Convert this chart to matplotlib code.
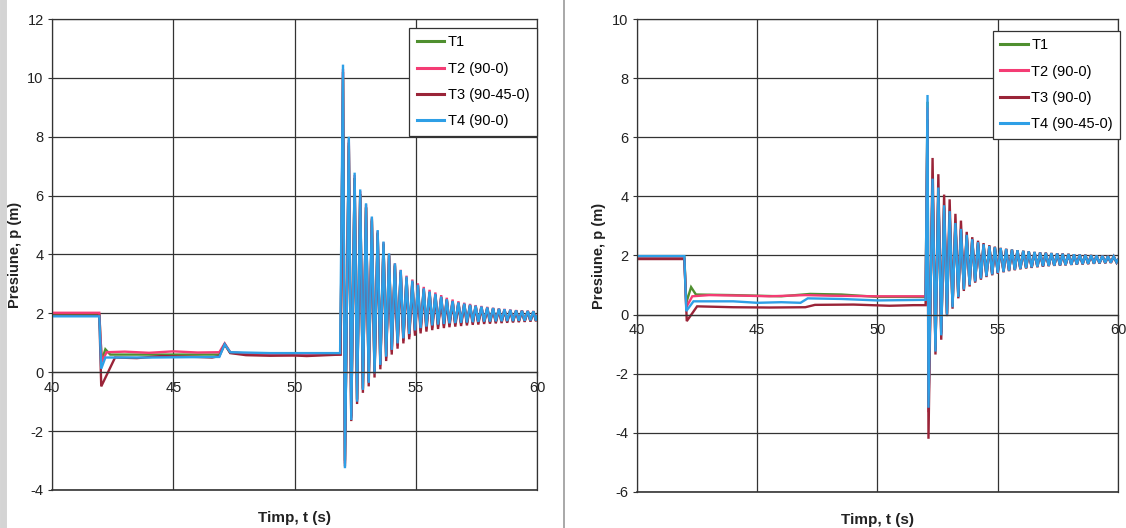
import numpy as np
import matplotlib
matplotlib.use("Agg")
import matplotlib.pyplot as plt
from matplotlib.lines import Line2D
from matplotlib.font_manager import FontProperties

# ---------------------------------------------------------------------------
# data (time in s, pressure in m)
# ---------------------------------------------------------------------------
labels_left = ["T1", "T2 (90-0)", "T3 (90-45-0)", "T4 (90-0)"]
labels_right = ["T1", "T2 (90-0)", "T3 (90-0)", "T4 (90-45-0)"]

# left chart - steady part before the surge
l_t1_t = [40, 41.95, 42.05, 42.2, 42.4, 44, 46.9, 47.12, 47.35, 49, 51.9]
l_t1_v = [1.95, 1.95, 0.4, 0.78, 0.6, 0.6, 0.6, 0.95, 0.66, 0.62, 0.62]
l_t2_t = [40, 41.95, 42.05, 42.25, 43, 44, 45, 46, 46.9, 47.12, 47.35, 48.5, 50, 51.9]
l_t2_v = [2.02, 2.02, 0.35, 0.68, 0.7, 0.66, 0.71, 0.67, 0.68, 0.98, 0.68, 0.6, 0.58, 0.6]
l_t3_t = [40, 41.95, 42.03, 42.6, 43.5, 44.5, 46, 46.6, 46.9, 47.12, 47.35, 48, 49, 50, 50.5, 51.9]
l_t3_v = [1.92, 1.92, -0.48, 0.5, 0.48, 0.55, 0.52, 0.5, 0.55, 0.95, 0.65, 0.58, 0.56, 0.57, 0.55, 0.6]
l_t4_t = [40, 41.95, 42.03, 42.2, 44, 46.9, 47.12, 47.35, 49, 51.88]
l_t4_v = [1.9, 1.9, 0.12, 0.5, 0.5, 0.52, 0.95, 0.68, 0.65, 0.65]

# left chart - oscillation extremes
l_peak_t = [52.00, 52.24, 52.48, 52.71, 52.95, 53.19, 53.43, 53.67, 53.90, 54.14,
            54.38, 54.62, 54.86, 55.09, 55.33, 55.57, 55.81, 56.05, 56.28, 56.52,
            56.76, 57.00, 57.24, 57.47, 57.71, 57.95, 58.19, 58.43, 58.66, 58.90,
            59.14, 59.38, 59.62, 59.85]
l_trough_t = [52.08, 52.34, 52.58, 52.82, 53.06, 53.30, 53.54, 53.78, 54.01, 54.25,
              54.49, 54.73, 54.97, 55.20, 55.44, 55.68, 55.92, 56.16, 56.39, 56.63,
              56.87, 57.11, 57.35, 57.58, 57.82, 58.06, 58.30, 58.54, 58.77, 59.01,
              59.25, 59.49, 59.73, 59.96]
l_t1_pk = [10.0, 7.7, 6.6, 6.05, 5.6, 5.2, 4.75, 4.38, 4.0, 3.66, 3.42, 3.22, 3.08, 2.95,
           2.83, 2.72, 2.64, 2.55, 2.47, 2.41, 2.36, 2.32, 2.28, 2.25, 2.22, 2.19, 2.17,
           2.15, 2.13, 2.11, 2.1, 2.09, 2.08, 2.07]
l_t1_tr = [-3.0, -1.5, -0.92, -0.55, -0.3, 0.0, 0.28, 0.55, 0.78, 0.98, 1.14, 1.28, 1.4,
           1.48, 1.54, 1.58, 1.61, 1.63, 1.65, 1.66, 1.67, 1.68, 1.69, 1.7, 1.71, 1.71,
           1.72, 1.72, 1.73, 1.73, 1.74, 1.74, 1.75, 1.75]
l_t2_pk = [10.3, 7.9, 6.7, 6.15, 5.7, 5.25, 4.8, 4.42, 4.02, 3.7, 3.48, 3.28, 3.15, 3.02,
           2.9, 2.8, 2.71, 2.62, 2.53, 2.47, 2.41, 2.36, 2.32, 2.28, 2.25, 2.22, 2.19,
           2.17, 2.15, 2.13, 2.11, 2.1, 2.09, 2.08]
l_t2_tr = [-3.1, -1.55, -0.95, -0.58, -0.35, -0.05, 0.22, 0.48, 0.7, 0.9, 1.06, 1.2, 1.32,
           1.4, 1.46, 1.51, 1.55, 1.58, 1.61, 1.63, 1.65, 1.66, 1.67, 1.68, 1.69, 1.7,
           1.71, 1.72, 1.72, 1.73, 1.73, 1.74, 1.74, 1.75]
l_t3_pk = [10.2, 7.8, 6.6, 6.05, 5.6, 5.15, 4.72, 4.35, 3.95, 3.62, 3.4, 3.2, 3.06, 2.93,
           2.81, 2.71, 2.63, 2.54, 2.46, 2.4, 2.35, 2.31, 2.27, 2.24, 2.21, 2.18, 2.16,
           2.14, 2.12, 2.1, 2.09, 2.08, 2.07, 2.06]
l_t3_tr = [-3.2, -1.66, -1.08, -0.7, -0.48, -0.18, 0.1, 0.38, 0.6, 0.8, 0.98, 1.12, 1.24,
           1.32, 1.38, 1.43, 1.47, 1.5, 1.53, 1.55, 1.57, 1.59, 1.61, 1.62, 1.64, 1.65,
           1.66, 1.67, 1.68, 1.69, 1.7, 1.71, 1.72, 1.73]
l_t4_pk = [10.45, 8.0, 6.78, 6.21, 5.74, 5.29, 4.83, 4.44, 4.04, 3.70, 3.47, 3.25, 3.11,
           2.97, 2.85, 2.74, 2.66, 2.57, 2.48, 2.42, 2.37, 2.33, 2.29, 2.26, 2.23, 2.2,
           2.18, 2.16, 2.14, 2.12, 2.1, 2.09, 2.08, 2.07]
l_t4_tr = [-3.26, -1.62, -1.0, -0.6, -0.36, -0.04, 0.25, 0.53, 0.76, 0.98, 1.15, 1.3, 1.42,
           1.5, 1.55, 1.59, 1.62, 1.64, 1.66, 1.67, 1.68, 1.69, 1.7, 1.71, 1.72, 1.72,
           1.73, 1.73, 1.74, 1.74, 1.75, 1.75, 1.76, 1.76]
l_end = [1.9, 1.92, 1.88, 1.9]

# right chart - steady part before the surge
r_t1_t = [40, 41.97, 42.05, 42.25, 42.45, 44, 46, 47.2, 48.5, 50, 52.0]
r_t1_v = [1.95, 1.95, 0.4, 0.93, 0.68, 0.66, 0.62, 0.7, 0.68, 0.6, 0.6]
r_t2_t = [40, 41.97, 42.05, 42.3, 43, 44.5, 45.5, 47, 48, 50, 52.0]
r_t2_v = [1.9, 1.9, 0.25, 0.62, 0.66, 0.64, 0.62, 0.66, 0.64, 0.62, 0.62]
r_t3_t = [40, 41.97, 42.07, 42.5, 44, 45.5, 47, 47.4, 49, 50.5, 51.5, 52.0]
r_t3_v = [1.88, 1.88, -0.22, 0.28, 0.25, 0.24, 0.25, 0.33, 0.34, 0.3, 0.32, 0.32]
r_t4_t = [40, 41.97, 42.05, 42.35, 44, 45, 46, 46.8, 47.1, 48.5, 50, 52.0]
r_t4_v = [1.98, 1.98, 0.12, 0.45, 0.45, 0.4, 0.42, 0.4, 0.55, 0.53, 0.48, 0.5]

# right chart - oscillation extremes
r_peak_t = [52.08, 52.29, 52.53, 52.77, 53.00, 53.24, 53.47, 53.71, 53.94, 54.18,
            54.41, 54.65, 54.88, 55.12, 55.35, 55.59, 55.82, 56.06, 56.29, 56.53,
            56.76, 57.00, 57.23, 57.47, 57.70, 57.94, 58.17, 58.41, 58.64, 58.88,
            59.11, 59.35, 59.58, 59.82]
r_trough_t = [52.12, 52.41, 52.65, 52.89, 53.12, 53.36, 53.59, 53.83, 54.06, 54.30,
              54.53, 54.77, 55.00, 55.24, 55.47, 55.71, 55.94, 56.18, 56.41, 56.65,
              56.88, 57.12, 57.35, 57.59, 57.82, 58.06, 58.29, 58.53, 58.76, 59.00,
              59.23, 59.47, 59.70, 59.94]
r_t1_pk = [7.2, 4.4, 4.1, 3.6, 3.4, 3.05, 2.85, 2.67, 2.53, 2.43, 2.36, 2.31, 2.27, 2.24,
           2.21, 2.19, 2.17, 2.15, 2.13, 2.11, 2.1, 2.09, 2.08, 2.07, 2.06, 2.05, 2.04,
           2.03, 2.02, 2.01, 2.0, 1.99, 1.98, 1.97]
r_t1_tr = [-3.0, -1.15, -0.6, 0.05, 0.3, 0.63, 0.88, 1.02, 1.14, 1.24, 1.31, 1.37, 1.42,
           1.46, 1.5, 1.53, 1.56, 1.58, 1.6, 1.62, 1.64, 1.65, 1.66, 1.67, 1.68, 1.69,
           1.7, 1.71, 1.72, 1.73, 1.74, 1.75, 1.76, 1.77]
r_t2_pk = [7.0, 4.5, 4.2, 3.65, 3.45, 3.08, 2.88, 2.69, 2.54, 2.44, 2.37, 2.31, 2.27, 2.24,
           2.21, 2.19, 2.17, 2.15, 2.13, 2.11, 2.1, 2.09, 2.08, 2.07, 2.06, 2.05, 2.04,
           2.03, 2.02, 2.01, 2.0, 1.99, 1.98, 1.97]
r_t2_tr = [-3.3, -1.2, -0.65, 0.02, 0.27, 0.6, 0.86, 1.0, 1.12, 1.22, 1.3, 1.36, 1.41,
           1.45, 1.49, 1.52, 1.55, 1.58, 1.6, 1.62, 1.64, 1.65, 1.66, 1.67, 1.68, 1.69,
           1.7, 1.71, 1.72, 1.73, 1.74, 1.75, 1.76, 1.77]
r_t3_pk = [6.6, 5.3, 4.75, 4.06, 3.9, 3.41, 3.18, 2.8, 2.62, 2.5, 2.42, 2.35, 2.3, 2.26,
           2.23, 2.2, 2.18, 2.16, 2.14, 2.12, 2.1, 2.09, 2.08, 2.07, 2.06, 2.05, 2.04,
           2.03, 2.02, 2.01, 2.0, 1.99, 1.98, 1.97]
r_t3_tr = [-4.2, -1.35, -0.85, -0.05, 0.2, 0.55, 0.8, 0.95, 1.08, 1.18, 1.27, 1.33, 1.38,
           1.43, 1.47, 1.5, 1.53, 1.56, 1.58, 1.6, 1.62, 1.64, 1.65, 1.66, 1.67, 1.68,
           1.69, 1.7, 1.71, 1.72, 1.73, 1.74, 1.75, 1.76]
r_t4_pk = [7.43, 4.6, 4.3, 3.7, 3.5, 3.1, 2.9, 2.7, 2.55, 2.45, 2.38, 2.32, 2.28, 2.25,
           2.22, 2.2, 2.18, 2.16, 2.14, 2.12, 2.1, 2.09, 2.08, 2.07, 2.06, 2.05, 2.04,
           2.03, 2.02, 2.01, 2.0, 1.99, 1.98, 1.97]
r_t4_tr = [-3.15, -1.25, -0.7, 0.0, 0.25, 0.6, 0.85, 1.0, 1.12, 1.22, 1.3, 1.36, 1.41,
           1.45, 1.49, 1.52, 1.55, 1.58, 1.6, 1.62, 1.64, 1.65, 1.66, 1.67, 1.68, 1.69,
           1.7, 1.71, 1.72, 1.73, 1.74, 1.75, 1.76, 1.77]
r_end = [1.86, 1.86, 1.85, 1.86]

colors = ["#4f8f2f", "#f43c74", "#9a2438", "#2e9fe6"]

plt.rcParams["axes.unicode_minus"] = False

TICK = FontProperties(family="Liberation Sans", size=10.5)
LEG = FontProperties(family="Liberation Sans", size=10.5)
XLAB = FontProperties(family="Liberation Sans", weight="bold", size=11)
YLAB = FontProperties(family="Liberation Sans", weight="bold", size=10.5)
GRID = "#333333"


def build(pre_t, pre_v, pk_t, pk_v, tr_t, tr_v, end_v):
    t = np.concatenate([pre_t, pk_t, tr_t, [60.0]])
    v = np.concatenate([pre_v, pk_v, tr_v, [end_v]])
    order = np.argsort(t, kind="stable")
    return t[order], v[order]


def style_axes(ax, ymin, ymax, ylab_x):
    ax.set_xlim(40, 60)
    ax.set_ylim(ymin, ymax)
    ax.set_xticks([40, 45, 50, 55, 60])
    ax.set_yticks(range(ymin, ymax + 1, 2))
    ax.grid(True, color=GRID, linewidth=0.9)
    ax.set_axisbelow(True)
    for s in ax.spines.values():
        s.set_color(GRID)
        s.set_linewidth(0.9)
    # Excel style: category axis crosses at y = 0
    ax.spines["bottom"].set_position(("data", 0))
    # plot area border at the bottom
    ax.axhline(ymin, color=GRID, lw=1.2, clip_on=False, zorder=0.5)
    ax.tick_params(axis="both", length=3, width=0.8, color=GRID,
                   labelcolor="#222222", pad=3)
    for lab in ax.get_xticklabels() + ax.get_yticklabels():
        lab.set_fontproperties(TICK)
    ax.set_xlabel("Timp, t (s)", fontproperties=XLAB, color="#222222")
    ax.xaxis.set_label_coords(0.5, -0.045, transform=ax.transAxes)
    ax.set_ylabel("Presiune, p (m)", fontproperties=YLAB, color="#222222")
    ax.yaxis.set_label_coords(ylab_x, 0.5, transform=ax.transAxes)


fig = plt.figure(figsize=(11.26, 5.28), dpi=100)
fig.patch.set_facecolor("white")

ax1 = fig.add_axes([0.0462, 0.072, 0.4307, 0.892])
ax2 = fig.add_axes([0.5657, 0.0682, 0.4272, 0.8958])

left_series = [
    build(l_t1_t, l_t1_v, l_peak_t, l_t1_pk, l_trough_t, l_t1_tr, l_end[0]),
    build(l_t2_t, l_t2_v, l_peak_t, l_t2_pk, l_trough_t, l_t2_tr, l_end[1]),
    build(l_t3_t, l_t3_v, l_peak_t, l_t3_pk, l_trough_t, l_t3_tr, l_end[2]),
    build(l_t4_t, l_t4_v, l_peak_t, l_t4_pk, l_trough_t, l_t4_tr, l_end[3]),
]
right_series = [
    build(r_t1_t, r_t1_v, r_peak_t, r_t1_pk, r_trough_t, r_t1_tr, r_end[0]),
    build(r_t2_t, r_t2_v, r_peak_t, r_t2_pk, r_trough_t, r_t2_tr, r_end[1]),
    build(r_t3_t, r_t3_v, r_peak_t, r_t3_pk, r_trough_t, r_t3_tr, r_end[2]),
    build(r_t4_t, r_t4_v, r_peak_t, r_t4_pk, r_trough_t, r_t4_tr, r_end[3]),
]

for (t, v), lab, c in zip(left_series, labels_left, colors):
    ax1.plot(t, v, color=c, lw=1.7, label=lab, solid_joinstyle="miter")
for (t, v), lab, c in zip(right_series, labels_right, colors):
    ax2.plot(t, v, color=c, lw=1.7, label=lab, solid_joinstyle="miter")

style_axes(ax1, -4, 12, -0.062)
style_axes(ax2, -6, 10, -0.064)

for ax, anchor in ((ax1, (1.0, 0.981)), (ax2, (1.005, 0.975))):
    leg = ax.legend(loc="upper right", bbox_to_anchor=anchor, borderaxespad=0,
                    fancybox=False, framealpha=1, edgecolor=GRID,
                    prop=LEG, handlelength=1.9,
                    handletextpad=0.25, labelspacing=0.85, borderpad=0.5)
    leg.get_frame().set_linewidth(0.9)
    for h in leg.get_lines():
        h.set_linewidth(2.2)

# scan edges: grey strip on the left and the divider between the two charts
fig.add_artist(Line2D([0.003, 0.003], [0, 1], color="#d4d4d4", lw=5))
fig.add_artist(Line2D([0.5005, 0.5005], [0, 1], color="#9a9a9a", lw=1.2))

fig.savefig("out.png", dpi=100, facecolor="white")
